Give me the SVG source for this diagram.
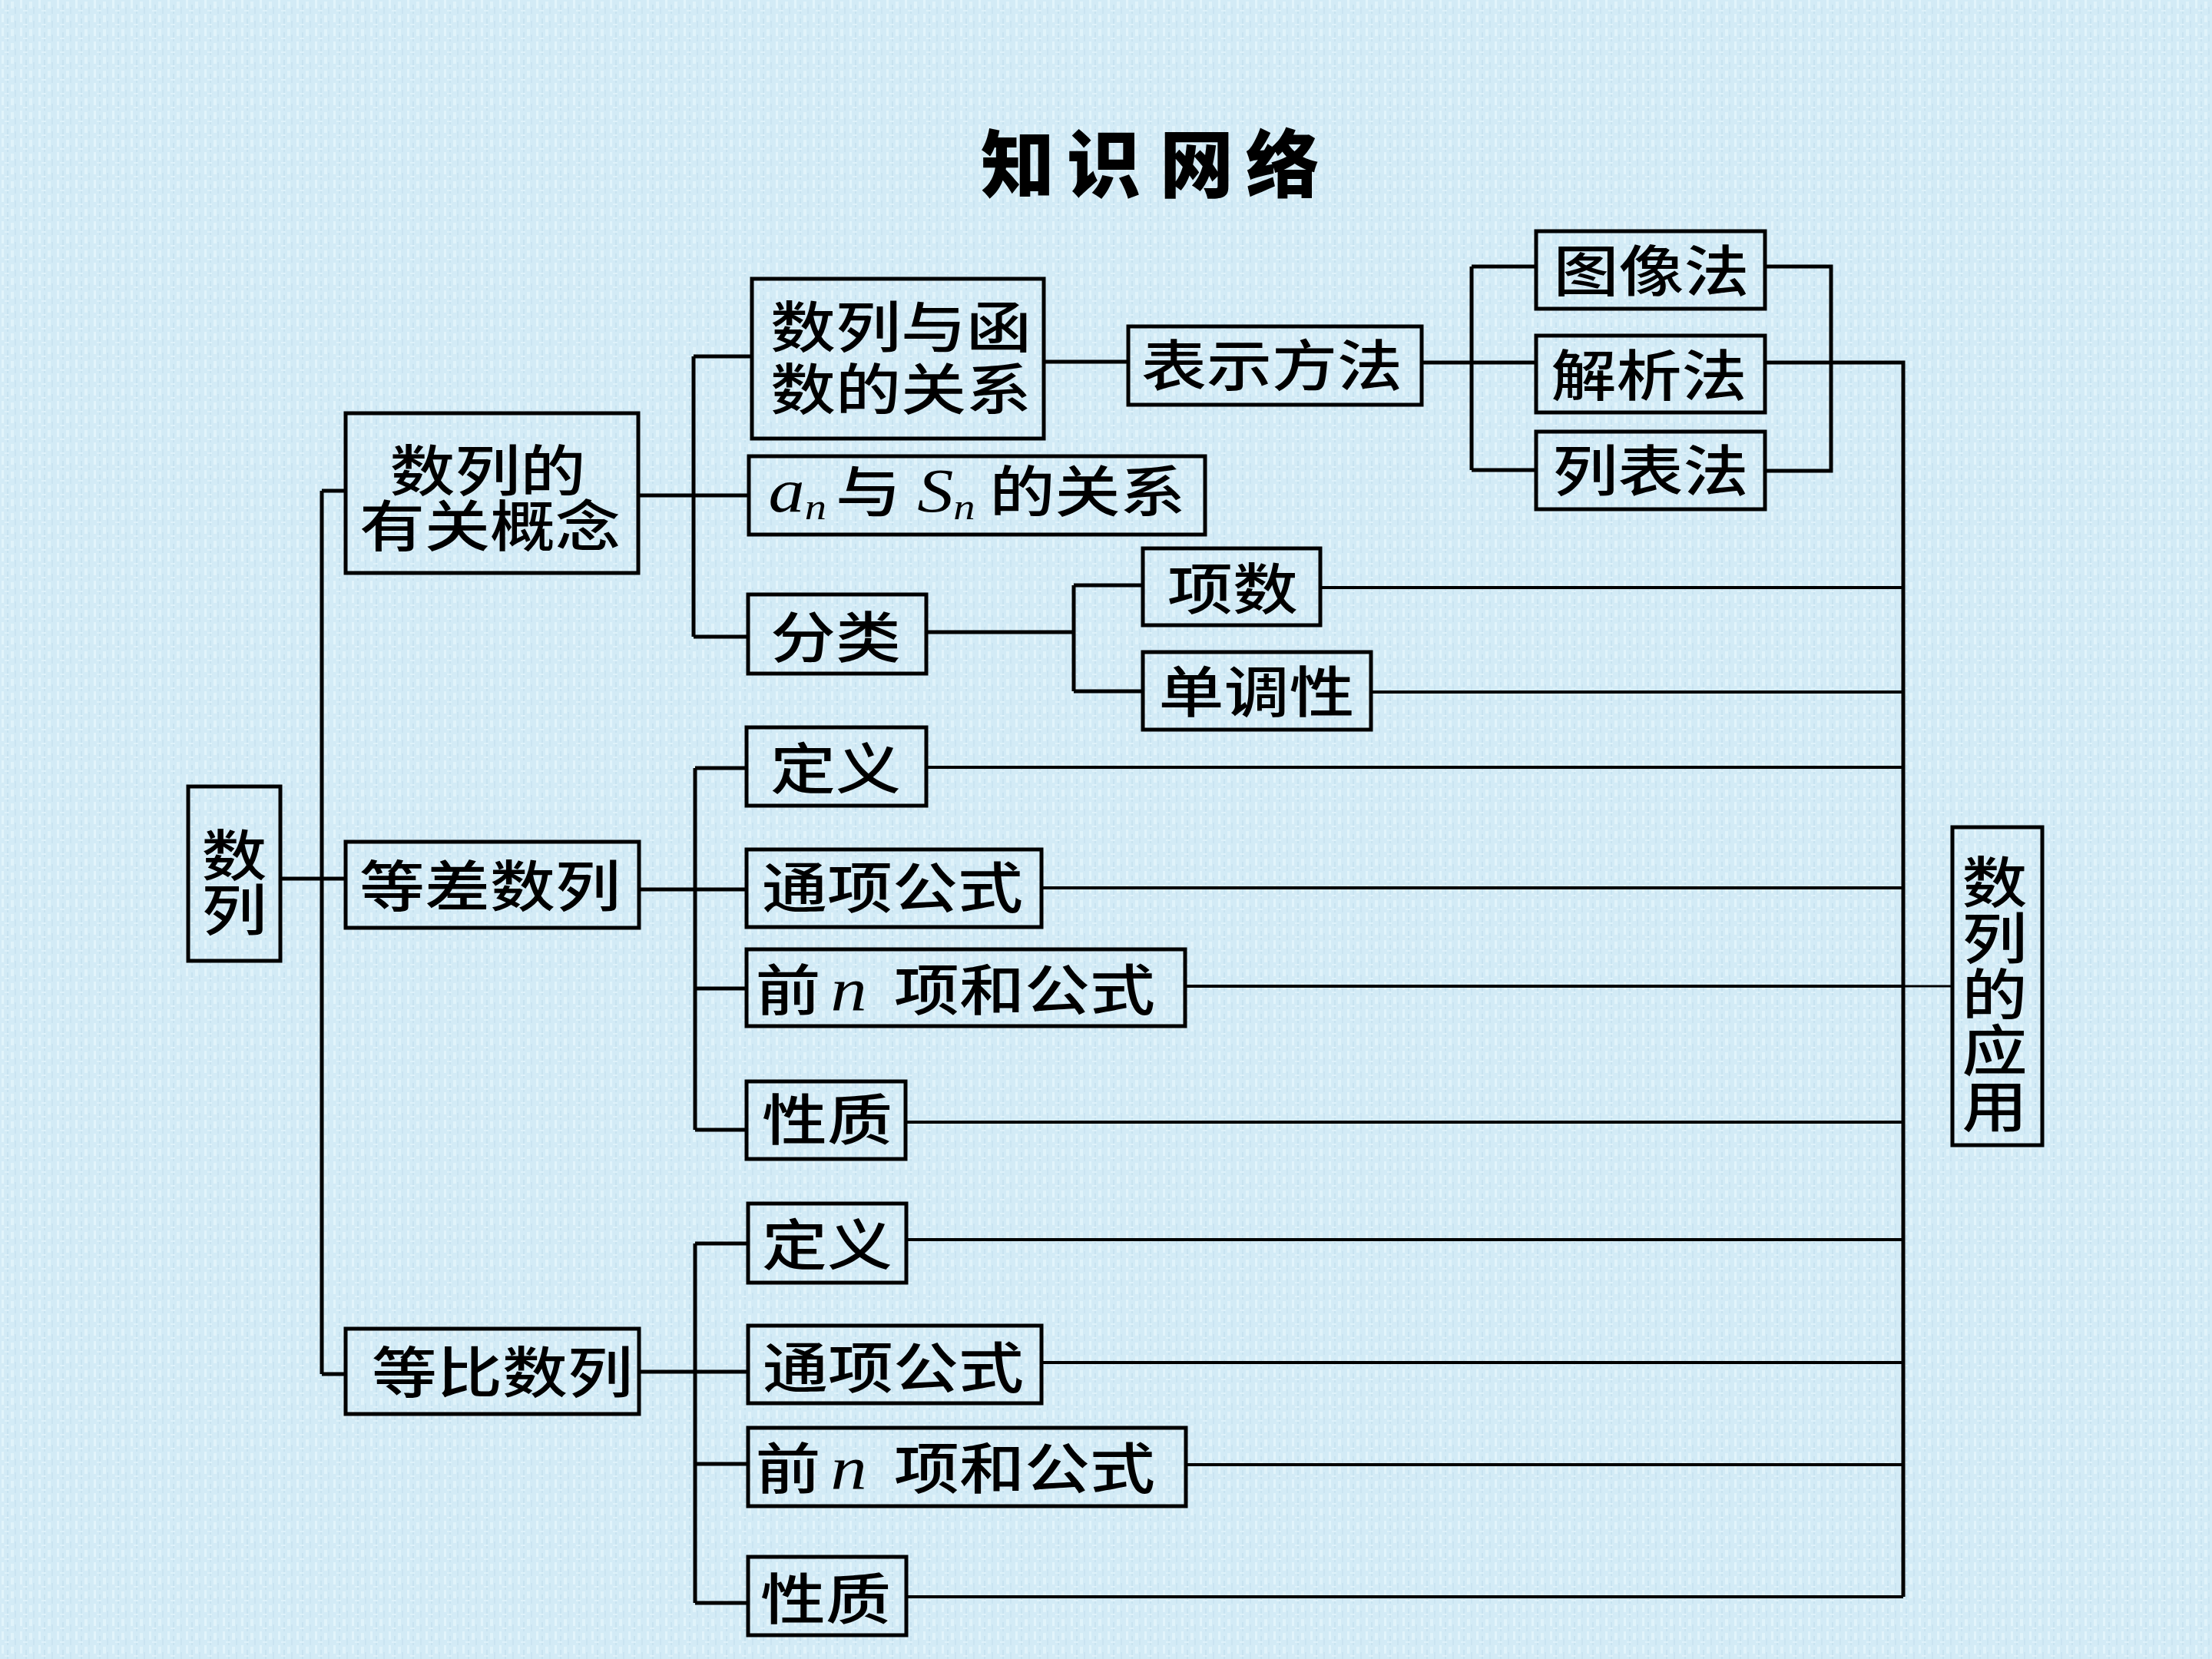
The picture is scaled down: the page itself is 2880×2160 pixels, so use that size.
<svg xmlns="http://www.w3.org/2000/svg" width="2880" height="2160" viewBox="0 0 2880 2160">
<defs>
<pattern id="tex" width="24" height="18" patternUnits="userSpaceOnUse">
<rect width="24" height="18" fill="#d3ebf6"/>
<rect x="2" y="0" width="3" height="11" fill="#e2f4fb"/>
<rect x="9" y="6" width="2" height="12" fill="#c8e3f0"/>
<rect x="14" y="2" width="4" height="9" fill="#e0f3fa"/>
<rect x="19" y="9" width="2" height="9" fill="#cae4f1"/>
<rect x="6" y="13" width="6" height="2" fill="#dff2fa"/>
</pattern>
<style>
.box{fill:none;stroke:#000;stroke-width:5;}
.t{font-family:"Noto Sans CJK SC","Noto Sans CJK JP",sans-serif;font-size:72px;fill:#000;font-weight:500;}
.it{font-family:"Liberation Serif",serif;font-style:italic;font-weight:400;}
.title{font-family:"Noto Sans CJK SC",sans-serif;font-size:96px;font-weight:900;fill:#000;}
#connectors path{fill:none;stroke:#000;stroke-width:5;}
#connectors path.thin{stroke-width:4;}
#connectors path.hair{stroke-width:3;}
</style>
</defs>
<rect width="2880" height="2160" fill="url(#tex)"/>

<text class="title" x="1325 1437 1558 1670" y="249" text-anchor="middle">知识网络</text>

<g id="connectors">
<path d="M365,1144 H450"/>
<path d="M419,639 V1789"/>
<path d="M419,639 H450"/>
<path d="M419,1789 H450"/>
<path d="M831,645 H975"/>
<path d="M903,464 V829"/>
<path d="M903,464 H979"/>
<path d="M903,829 H974"/>
<path d="M1359,471 H1469"/>
<path d="M1851,472 H2000"/>
<path d="M1916,347 V612"/>
<path d="M1916,347 H2000"/>
<path d="M1916,612 H2000"/>
<path d="M2298,347 H2384 V613 H2298"/>
<path d="M2298,472 H2478 V2079"/>
<path d="M1206,823 H1398"/>
<path d="M1398,762 V900"/>
<path d="M1398,762 H1488"/>
<path d="M1398,900 H1488"/>
<path class="thin" d="M1719,765 H2478"/>
<path class="thin" d="M1785,901 H2478"/>
<path d="M832,1158 H972"/>
<path d="M905,1000 V1471"/>
<path d="M905,1000 H972"/>
<path d="M905,1287 H972"/>
<path d="M905,1471 H972"/>
<path class="thin" d="M1206,999 H2478"/>
<path class="thin" d="M1356,1156 H2478"/>
<path class="thin" d="M1543,1284 H2478"/>
<path class="thin" d="M1179,1461 H2478"/>
<path class="hair" d="M2478,1284 H2542"/>
<path d="M832,1786 H974"/>
<path d="M905,1619 V2087"/>
<path d="M905,1619 H974"/>
<path d="M905,1906 H974"/>
<path d="M905,2087 H974"/>
<path class="thin" d="M1180,1614 H2478"/>
<path class="thin" d="M1356,1774 H2478"/>
<path class="thin" d="M1544,1907 H2478"/>
<path class="thin" d="M1180,2079 H2478"/>
</g>

<g id="n-root">
<rect class="box" x="245" y="1024" width="120" height="227"/>
<text class="t" transform="matrix(1.18 0 0 1 305 0)" x="0 0" y="1140 1211" text-anchor="middle">数列</text>
</g>

<g id="n-concept">
<rect class="box" x="450" y="538" width="381" height="208"/>
<text class="t" transform="matrix(1.18 0 0 1 635 0)" x="0" y="639" text-anchor="middle">数列的</text>
<text class="t" transform="matrix(1.18 0 0 1 638 0)" x="0" y="711" text-anchor="middle">有关概念</text>
</g>

<g id="n-arith">
<rect class="box" x="450" y="1096" width="382" height="112"/>
<text class="t" transform="matrix(1.18 0 0 1 638 0)" x="0" y="1180" text-anchor="middle">等差数列</text>
</g>

<g id="n-geo">
<rect class="box" x="450" y="1730" width="382" height="111"/>
<text class="t" transform="matrix(1.18 0 0 1 654 0)" x="0" y="1813" text-anchor="middle">等比数列</text>
</g>

<g id="n-func">
<rect class="box" x="979" y="363" width="380" height="208"/>
<text class="t" transform="matrix(1.18 0 0 1 1173 0)" x="0" y="452" text-anchor="middle">数列与函</text>
<text class="t" transform="matrix(1.18 0 0 1 1173 0)" x="0" y="533" text-anchor="middle">数的关系</text>
</g>

<g id="n-ansn">
<rect class="box" x="975" y="594" width="594" height="102"/>
<text class="t" transform="matrix(1.18 0 0 1 1272 0)" y="666"><tspan class="it" x="-230" font-size="80">a</tspan><tspan class="it" font-size="48" dy="10">n</tspan><tspan x="-156" dy="-10">与</tspan><tspan class="it" x="-66" font-size="80">S</tspan><tspan class="it" font-size="48" dy="10">n</tspan><tspan x="14" dy="-10">的关系</tspan></text>
</g>

<g id="n-class">
<rect class="box" x="974" y="774" width="232" height="103"/>
<text class="t" transform="matrix(1.18 0 0 1 1088 0)" x="0" y="856" text-anchor="middle">分类</text>
</g>

<g id="n-repr">
<rect class="box" x="1469" y="425" width="382" height="102"/>
<text class="t" transform="matrix(1.18 0 0 1 1656 0)" x="0" y="502" text-anchor="middle">表示方法</text>
</g>

<g id="n-graph">
<rect class="box" x="2000" y="301" width="298" height="101"/>
<text class="t" transform="matrix(1.18 0 0 1 2150 0)" x="0" y="379" text-anchor="middle">图像法</text>
</g>

<g id="n-analytic">
<rect class="box" x="2000" y="437" width="298" height="100"/>
<text class="t" transform="matrix(1.18 0 0 1 2147 0)" x="0" y="515" text-anchor="middle">解析法</text>
</g>

<g id="n-table">
<rect class="box" x="2000" y="562" width="298" height="101"/>
<text class="t" transform="matrix(1.18 0 0 1 2149 0)" x="0" y="639" text-anchor="middle">列表法</text>
</g>

<g id="n-count">
<rect class="box" x="1488" y="714" width="231" height="100"/>
<text class="t" transform="matrix(1.18 0 0 1 1605 0)" x="0" y="793" text-anchor="middle">项数</text>
</g>

<g id="n-mono">
<rect class="box" x="1488" y="849" width="297" height="101"/>
<text class="t" transform="matrix(1.18 0 0 1 1636 0)" x="0" y="927" text-anchor="middle">单调性</text>
</g>

<g id="n-a-def">
<rect class="box" x="972" y="947" width="234" height="102"/>
<text class="t" transform="matrix(1.18 0 0 1 1088 0)" x="0" y="1027" text-anchor="middle">定义</text>
</g>

<g id="n-a-gen">
<rect class="box" x="972" y="1106" width="384" height="101"/>
<text class="t" transform="matrix(1.18 0 0 1 1162 0)" x="0" y="1182" text-anchor="middle">通项公式</text>
</g>

<g id="n-a-sum">
<rect class="box" x="972" y="1236" width="571" height="100"/>
<text class="t" transform="matrix(1.18 0 0 1 1249 0)" y="1315"><tspan x="-225">前</tspan><tspan class="it" x="-142" font-size="80">n</tspan><tspan x="-72">项和公式</tspan></text>
</g>

<g id="n-a-prop">
<rect class="box" x="972" y="1408" width="207" height="101"/>
<text class="t" transform="matrix(1.18 0 0 1 1077 0)" x="0" y="1484" text-anchor="middle">性质</text>
</g>

<g id="n-g-def">
<rect class="box" x="974" y="1567" width="206" height="103"/>
<text class="t" transform="matrix(1.18 0 0 1 1077 0)" x="0" y="1647" text-anchor="middle">定义</text>
</g>

<g id="n-g-gen">
<rect class="box" x="974" y="1726" width="382" height="101"/>
<text class="t" transform="matrix(1.18 0 0 1 1163 0)" x="0" y="1807" text-anchor="middle">通项公式</text>
</g>

<g id="n-g-sum">
<rect class="box" x="974" y="1859" width="570" height="102"/>
<text class="t" transform="matrix(1.18 0 0 1 1249 0)" y="1938"><tspan x="-225">前</tspan><tspan class="it" x="-142" font-size="80">n</tspan><tspan x="-72">项和公式</tspan></text>
</g>

<g id="n-g-prop">
<rect class="box" x="974" y="2027" width="206" height="102"/>
<text class="t" transform="matrix(1.18 0 0 1 1075 0)" x="0" y="2108" text-anchor="middle">性质</text>
</g>

<g id="n-app">
<rect class="box" x="2542" y="1077" width="117" height="414"/>
<text class="t" transform="matrix(1.18 0 0 1 2597 0)" x="0 0 0 0 0" y="1175 1248 1321 1394 1467" text-anchor="middle">数列的应用</text>
</g>
</svg>
